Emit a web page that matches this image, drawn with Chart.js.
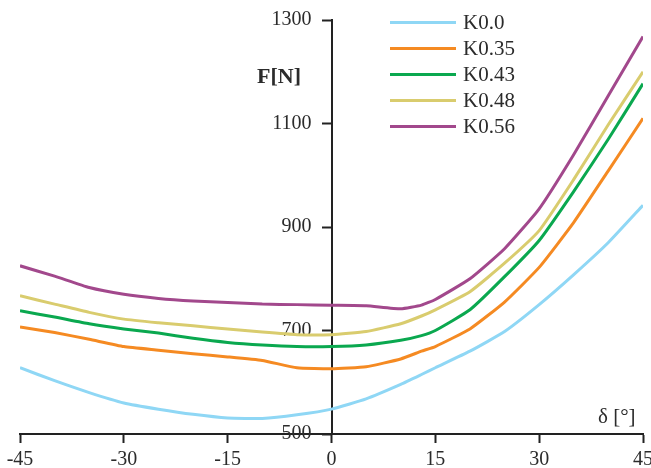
<!DOCTYPE html>
<html>
<head>
<meta charset="utf-8">
<script src="https://cdn.jsdelivr.net/npm/chart.js@4.4.1/dist/chart.umd.min.js"></script>
<style>
  html, body { margin: 0; padding: 0; background: #fff; }
  #wrap { position: relative; width: 651px; height: 468px; }
</style>
</head>
<body>
<div id="wrap"><canvas id="chart"></canvas></div>
<script>
// Angle delta [deg] and force F [N]
const deltaValues = [-45, -40, -35, -30, -25, -20, -15, -10, -5, 0, 5, 10, 13, 15, 20, 25, 30, 35, 40, 45];

const k000 = [628, 603, 580, 560, 548, 538, 531, 530, 537, 548, 568, 596, 615, 628, 660, 698, 750, 808, 870, 942];
const k035 = [707, 696, 683, 669, 662, 655, 649, 642, 628, 626, 630, 645, 660, 669, 703, 755, 822, 909, 1009, 1110];
const k043 = [738, 726, 713, 703, 695, 685, 677, 672, 669, 669, 672, 681, 690, 700, 740, 804, 874, 969, 1070, 1177];
const k048 = [767, 751, 735, 722, 715, 709, 703, 697, 692, 692, 698, 713, 728, 740, 775, 830, 893, 992, 1098, 1200];
const k056 = [825, 805, 783, 770, 762, 757, 754, 751, 750, 749, 748, 742, 749, 760, 800, 858, 935, 1040, 1154, 1268];

const seriesLabels = ['K0.0', 'K0.35', 'K0.43', 'K0.48', 'K0.56'];
const seriesValues = [k000, k035, k043, k048, k056];
const seriesColors = ['#8fd7f5', '#f58a22', '#0aa84f', '#d9cc6e', '#a2488c'];

const xTicks = [-45, -30, -15, 0, 15, 30, 45];
const yTicks = [500, 700, 900, 1100, 1300];

const axisColor = '#222222';
const textColor = '#2b2b2b';
const serif = "'Liberation Serif', 'Times New Roman', serif";

// legend and axis names drawn inside the plot
const annotations = {
  id: 'annotations',
  afterDraw(chart) {
    const ctx = chart.ctx;
    ctx.save();
    // legend
    chart.data.datasets.forEach((ds, i) => {
      const y = 22.5 + i * 26;
      ctx.strokeStyle = ds.borderColor;
      ctx.lineWidth = 3;
      ctx.beginPath();
      ctx.moveTo(390, y);
      ctx.lineTo(456, y);
      ctx.stroke();
      ctx.fillStyle = textColor;
      ctx.font = '21px ' + serif;
      ctx.textAlign = 'left';
      ctx.textBaseline = 'middle';
      ctx.fillText(ds.label, 463, y + 1);
    });
    // axis names
    ctx.fillStyle = textColor;
    ctx.font = 'bold 22px ' + serif;
    ctx.textAlign = 'left';
    ctx.textBaseline = 'middle';
    ctx.fillText('F[N]', 257, 77);
    ctx.font = '21px ' + serif;
    ctx.fillText('δ [°]', 598, 417);
    ctx.restore();
  }
};

new Chart(document.getElementById('chart'), {
  type: 'line',
  data: {
    datasets: seriesLabels.map((label, i) => ({
      label: label,
      data: deltaValues.map((d, j) => ({ x: d, y: seriesValues[i][j] })),
      borderColor: seriesColors[i],
      backgroundColor: seriesColors[i],
      borderWidth: 3,
      pointRadius: 0,
      tension: 0.15,
      fill: false
    }))
  },
  options: {
    responsive: true,
    maintainAspectRatio: false,
    animation: false,
    layout: { padding: { left: 20, right: 8, top: 20, bottom: 0 } },
    plugins: {
      legend: { display: false },
      tooltip: { enabled: false }
    },
    scales: {
      x: {
        type: 'linear',
        position: 'bottom',
        min: -45,
        max: 45,
        afterBuildTicks: (scale) => { scale.ticks = xTicks.map(v => ({ value: v })); },
        afterFit: (scale) => {
          scale.height = 34;
          // end labels fit in the layout padding already
          scale.paddingLeft = 0;
          scale.paddingRight = 0;
        },
        grid: { drawOnChartArea: false, tickLength: 9, tickWidth: 2, tickColor: axisColor },
        border: { color: axisColor, width: 2 },
        ticks: { color: textColor, padding: 5, font: { family: serif, size: 20 } }
      },
      y: {
        type: 'linear',
        position: { x: 0 },
        min: 500,
        max: 1300,
        afterBuildTicks: (scale) => { scale.ticks = yTicks.map(v => ({ value: v })); },
        grid: { drawOnChartArea: false, tickLength: 9, tickWidth: 2, tickColor: axisColor },
        border: { color: axisColor, width: 2 },
        // a centred axis puts its labels right on the line, so keep them clear with two en spaces
        ticks: {
          color: textColor,
          font: { family: serif, size: 20 },
          callback: (v) => String(v) + '\u2002\u2002'
        }
      }
    }
  },
  plugins: [annotations]
});
</script>
</body>
</html>
